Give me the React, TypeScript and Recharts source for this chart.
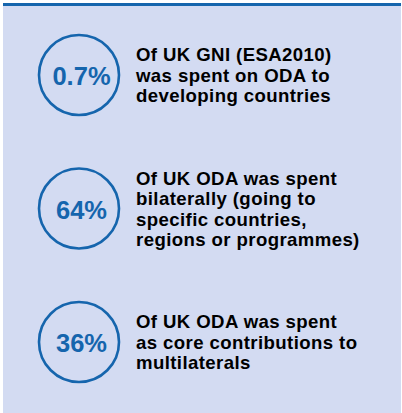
import React from "react";
import { ScatterChart, Scatter, XAxis, YAxis } from "recharts";

const percentages = ["0.7%", "64%", "36%"];

const descriptions = [
  ["Of UK GNI (ESA2010)", "was spent on ODA to", "developing countries"],
  [
    "Of UK ODA was spent",
    "bilaterally (going to",
    "specific countries,",
    "regions or programmes)",
  ],
  ["Of UK ODA was spent", "as core contributions to", "multilaterals"],
];

const rowIndex = [0, 1, 2];

const data = rowIndex.map((i) => ({
  x: 0,
  y: i,
  pct: percentages[i],
  lines: descriptions[i],
}));

const BLUE = "#1565ad";
const PANEL = "#d3dbf2";
const FONT = "'Liberation Sans', Arial, Helvetica, sans-serif";
const LINE_H = 20.4;

function StatShape(props: any) {
  const { cx, cy, payload } = props;
  const lines: string[] = payload.lines;
  const firstBaseline = cy - ((lines.length - 1) * LINE_H) / 2 + 6.8;
  return (
    <g>
      <circle cx={cx} cy={cy} r={40} fill="none" stroke={BLUE} strokeWidth={2.6} />
      <text
        x={cx + 2.5}
        y={cy + 10}
        textAnchor="middle"
        fill={BLUE}
        fontFamily={FONT}
        fontWeight="bold"
        fontSize={25.5}
      >
        {payload.pct}
      </text>
      {lines.map((line, k) => (
        <text
          key={k}
          x={cx + 57}
          y={firstBaseline + k * LINE_H}
          fill="#000"
          fontFamily={FONT}
          fontWeight="bold"
          fontSize={18.6}
          letterSpacing={0.4}
        >
          {line}
        </text>
      ))}
    </g>
  );
}

export default function App() {
  return (
    <div style={{ position: "relative", width: 402, height: 413, background: "#fff" }}>
      <style>{`body{margin:0}`}</style>
      <div
        style={{
          position: "absolute",
          left: 3,
          top: 3,
          width: 398,
          height: 410,
          background: PANEL,
          borderTop: `3px solid ${BLUE}`,
          boxSizing: "border-box",
        }}
      />
      <div style={{ position: "absolute", left: 0, top: 0 }}>
        <ScatterChart
          width={402}
          height={413}
          margin={{ top: 75, right: 20, bottom: 71, left: 79 }}
        >
          <XAxis type="number" dataKey="x" domain={[0, 1]} hide />
          <YAxis type="number" dataKey="y" domain={[0, 2]} reversed hide />
          <Scatter data={data} shape={<StatShape />} isAnimationActive={false} />
        </ScatterChart>
      </div>
    </div>
  );
}
